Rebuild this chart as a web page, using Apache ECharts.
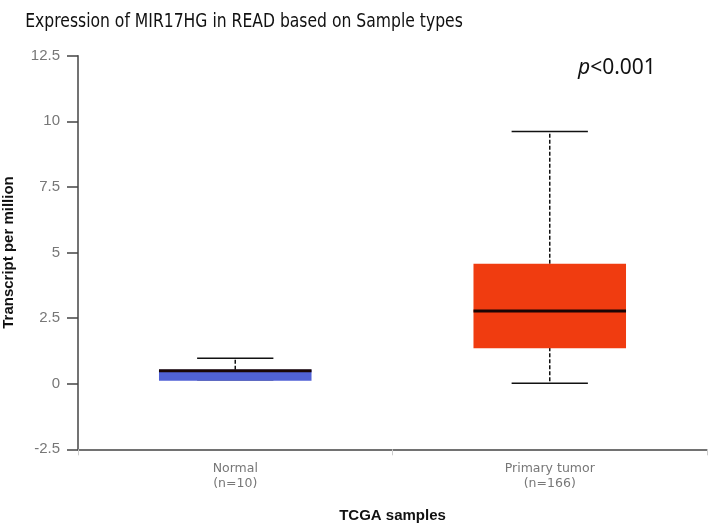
<!DOCTYPE html>
<html>
<head>
<meta charset="utf-8">
<script src="https://cdn.jsdelivr.net/npm/echarts@6/dist/echarts.min.js"></script>
<style>
html,body{margin:0;padding:0;background:#fff;}
#chart{width:709px;height:526px;}
</style>
</head>
<body>
<div id="chart"></div>
<script>
// ---- data ----
var categories = ['Normal', 'Primary tumor'];
var sampleCounts = [10, 166];
var mins    = [0.15, 0.02];
var q1s     = [0.15, 1.39];
var medians = [0.49, 2.77];
var q3s     = [0.53, 4.57];
var maxs    = [0.97, 9.61];
var yTicks  = [-2.5, 0, 2.5, 5, 7.5, 10, 12.5];
var titleText = 'Expression of MIR17HG in READ based on Sample types';
var pText = '<0.001';

// ---- styles ----
var boxColors = ['#5161d6', '#f03c10'];

var chart = echarts.init(document.getElementById('chart'));
var labels = categories.map(function (c, i) { return c + '\n(n=' + sampleCounts[i] + ')'; });
var seriesData = categories.map(function (c, i) {
  return [i, mins[i], q1s[i], medians[i], q3s[i], maxs[i]];
});

function renderBox(params, api) {
  var i = api.value(0);
  var lo = api.coord([i, api.value(1)]);
  var q1 = api.coord([i, api.value(2)]);
  var md = api.coord([i, api.value(3)]);
  var q3 = api.coord([i, api.value(4)]);
  var hi = api.coord([i, api.value(5)]);
  var bw = api.size([1, 0])[0] * 0.485;
  var cx = md[0];
  var stroke = '#111';
  return {
    type: 'group',
    children: [
      { type: 'line', shape: { x1: cx, y1: q3[1], x2: cx, y2: hi[1] },
        style: { stroke: stroke, lineWidth: 1.5, lineDash: [4, 2] } },
      { type: 'line', shape: { x1: cx, y1: q1[1], x2: cx, y2: lo[1] },
        style: { stroke: stroke, lineWidth: 1.5, lineDash: [4, 2] } },
      { type: 'line', shape: { x1: cx - bw / 4, y1: hi[1], x2: cx + bw / 4, y2: hi[1] },
        style: { stroke: stroke, lineWidth: 1.5 } },
      { type: 'line', shape: { x1: cx - bw / 4, y1: lo[1], x2: cx + bw / 4, y2: lo[1] },
        style: { stroke: stroke, lineWidth: 1.5 } },
      { type: 'rect', shape: { x: cx - bw / 2, y: q3[1], width: bw, height: q1[1] - q3[1] + 1 },
        style: { fill: boxColors[i] } },
      { type: 'line', shape: { x1: cx - bw / 2, y1: md[1], x2: cx + bw / 2, y2: md[1] },
        style: { stroke: '#1a0505', lineWidth: 3 } }
    ]
  };
}

chart.setOption({
  animation: false,
  backgroundColor: '#fff',
  graphic: [{
    type: 'text', x: 244, y: 22, scaleX: 0.78,
    style: {
      text: titleText, textAlign: 'center', textVerticalAlign: 'middle',
      font: '20px DejaVu Sans', fill: '#111'
    }
  }, {
    type: 'text', left: 578, top: 58,
    style: {
      text: '{i|p}' + pText,
      rich: { i: { fontStyle: 'italic', fontFamily: 'Noto Sans', fontSize: 21, fill: '#111' } },
      font: '21px Noto Sans', fill: '#111'
    }
  }],
  grid: { left: 78, right: 2, top: 55.7, bottom: 76.7, containLabel: false, outerBoundsMode: 'none' },
  xAxis: {
    type: 'category',
    data: labels,
    name: 'TCGA samples',
    nameLocation: 'middle',
    nameGap: 59,
    nameTextStyle: { fontFamily: 'Liberation Sans', fontWeight: 'bold', fontSize: 15, color: '#111', verticalAlign: 'top' },
    axisLine: { onZero: false, lineStyle: { color: '#444', width: 1.5 } },
    axisTick: { show: true, length: 6, lineStyle: { color: '#ccc' } },
    axisLabel: { margin: 12, fontFamily: 'DejaVu Sans', fontSize: 12.5, lineHeight: 15, color: '#777' },
    splitLine: { show: false }
  },
  yAxis: {
    type: 'value',
    min: yTicks[0], max: yTicks[yTicks.length - 1], interval: 2.5,
    name: 'Transcript per million',
    nameLocation: 'middle',
    nameGap: 62,
    nameTextStyle: { fontFamily: 'Liberation Sans', fontWeight: 'bold', fontSize: 15, color: '#111' },
    axisLine: { show: true, lineStyle: { color: '#444', width: 1.5 } },
    axisTick: { show: true, length: 11, lineStyle: { color: '#444', width: 1.5 } },
    axisLabel: { margin: 18, fontFamily: 'Liberation Sans', fontSize: 15, color: '#777' },
    splitLine: { show: false }
  },
  series: [{
    type: 'custom',
    renderItem: renderBox,
    encode: { x: 0, y: [1, 2, 3, 4, 5] },
    data: seriesData
  }]
});
</script>
</body>
</html>
